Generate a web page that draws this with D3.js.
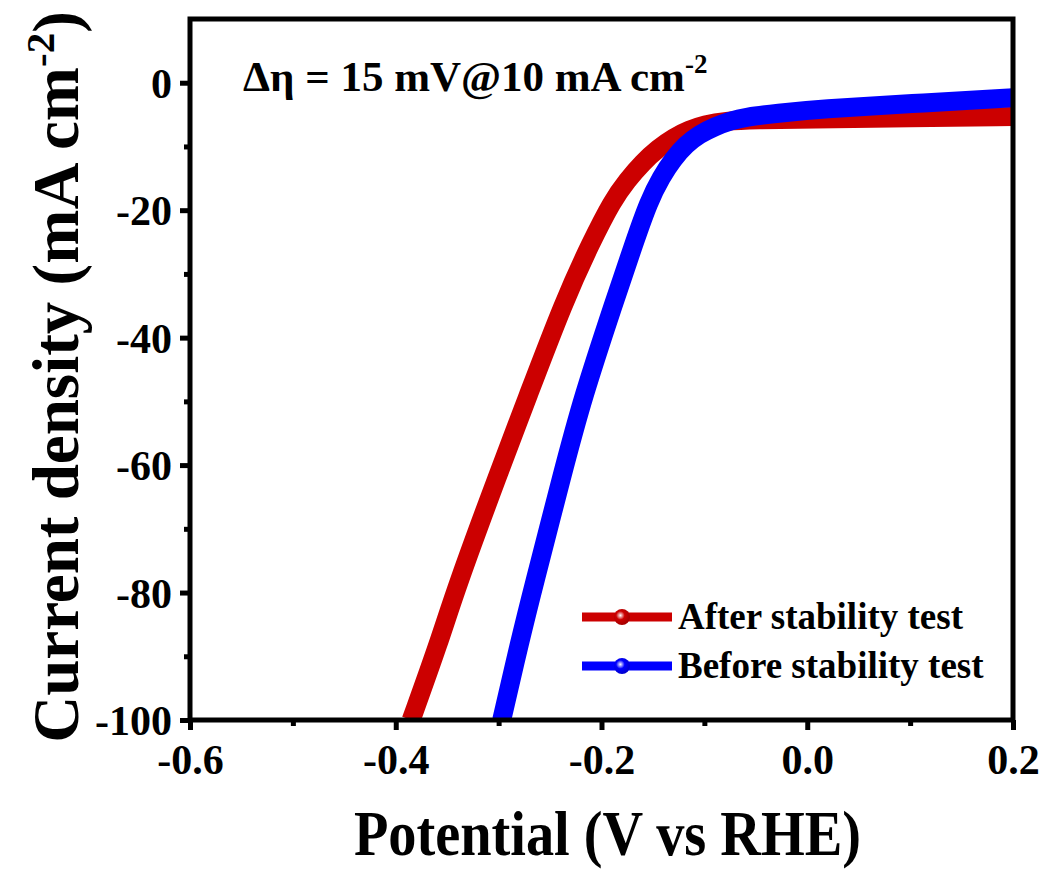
<!DOCTYPE html>
<html>
<head>
<meta charset="utf-8">
<script src="https://cdn.jsdelivr.net/npm/d3@7"></script>
<style>
    body { margin: 0; background: #fff; }
    text { font-family: 'Liberation Serif', 'Times New Roman', serif; font-weight: bold; fill: #000; }
</style>
</head>
<body>
<script>
// LSV data: potential (V vs RHE) and current density (mA cm-2)
const afterV = [-0.385, -0.357, -0.342, -0.299, -0.273, -0.236, -0.210, -0.189, -0.175, -0.160, -0.145, -0.130, -0.115, -0.100, -0.080, -0.050, 0.000, 0.100, 0.200];
const afterJ = [-100, -87.4, -79.6, -60.8, -49.8, -34.1, -25.0, -18.4, -15.3, -12.5, -10.3, -8.6, -7.4, -6.6, -6.0, -5.8, -5.7, -5.5, -5.3];
const beforeV = [-0.297, -0.279, -0.267, -0.237, -0.219, -0.187, -0.168, -0.154, -0.142, -0.130, -0.118, -0.105, -0.090, -0.075, -0.060, -0.030, 0.013, 0.100, 0.200];
const beforeJ = [-100, -87.4, -79.6, -60.8, -49.8, -34.1, -25.0, -18.6, -14.8, -11.9, -9.7, -8.1, -6.9, -6.0, -5.4, -4.8, -4.1, -3.3, -2.35];

const seriesNames = ['After stability test', 'Before stability test'];
const seriesColors = ['#cc0000', '#0000ff'];
const xTicks = [-0.6, -0.4, -0.2, 0.0, 0.2];
const xMinor = [-0.5, -0.3, -0.1, 0.1];
const yTicks = [0, -20, -40, -60, -80, -100];
const yMinor = [-10, -30, -50, -70, -90];

const W = 1045, H = 873;
const margin = { top: 19, right: 32, bottom: 153, left: 190 };
const width = W - margin.left - margin.right;
const height = H - margin.top - margin.bottom;

const svg = d3.select('body').append('svg')
    .attr('width', W)
    .attr('height', H);

const root = svg.append('g').attr('transform', `translate(${margin.left},${margin.top})`);

const xscale = d3.scaleLinear().domain([-0.6, 0.2]).range([0, width]);
const yscale = d3.scaleLinear().domain([-100, 10]).range([height, 0]);

// clip the curves to the frame
const defs = svg.append('defs');
defs.append('clipPath').attr('id', 'plotClip')
    .append('rect').attr('width', width).attr('height', height);

// sphere look for the legend markers
const grads = defs.selectAll('radialGradient').data(seriesColors).enter()
    .append('radialGradient')
    .attr('id', (d, i) => `ball${i}`)
    .attr('cx', '40%').attr('cy', '40%').attr('r', '60%');
grads.append('stop').attr('offset', '0%').attr('stop-color', '#fff');
grads.append('stop').attr('offset', '45%').attr('stop-color', (d) => d);
grads.append('stop').attr('offset', '100%').attr('stop-color', (d) => d3.color(d).darker(0.6));

const series = [
    afterV.map((v, i) => ({ v: v, j: afterJ[i] })),
    beforeV.map((v, i) => ({ v: v, j: beforeJ[i] }))
];

//b-spline keeps the knee smooth, ends stay on the first/last point
const line = d3.line()
    .x((d) => xscale(d.v))
    .y((d) => yscale(d.j))
    .curve(d3.curveBasis);

const chart = root.append('g').attr('clip-path', 'url(#plotClip)');
chart.selectAll('path').data(series).enter().append('path')
    .attr('d', line)
    .attr('fill', 'none')
    .attr('stroke', (d, i) => seriesColors[i])
    .attr('stroke-width', 19)
    .attr('stroke-linejoin', 'round');

// axes: major ticks with labels, minor ticks in between
const fmtX = (d) => d3.format('.1f')(d).replace('\u2212', '-');
const fmtY = (d) => String(d);
const xaxis = d3.axisBottom(xscale).tickValues(xTicks).tickFormat(fmtX).tickSize(10).tickPadding(10);
const xminor = d3.axisBottom(xscale).tickValues(xMinor).tickFormat('').tickSize(6);
const yaxis = d3.axisLeft(yscale).tickValues(yTicks).tickFormat(fmtY).tickSize(10).tickPadding(8);
const yminor = d3.axisLeft(yscale).tickValues(yMinor).tickFormat('').tickSize(6);

const gx = root.append('g').attr('transform', `translate(0,${height})`);
gx.append('g').call(xaxis);
gx.append('g').call(xminor);
const gy = root.append('g');
gy.append('g').call(yaxis);
gy.append('g').call(yminor);

root.selectAll('.domain').remove();
root.selectAll('.tick line').attr('stroke', '#000').attr('stroke-width', 5);
root.selectAll('.tick text').style('font-size', '42px').attr('fill', '#000');
gx.selectAll('.tick text').attr('dy', '0.8em');
gy.selectAll('.tick text').attr('dy', '0.35em');

// frame
root.append('rect')
    .attr('width', width).attr('height', height)
    .attr('fill', 'none').attr('stroke', '#000').attr('stroke-width', 5);

// axis titles (glyphs in the picture are a bit narrow, hence the x squeeze)
svg.append('text')
    .attr('transform', `translate(${margin.left + width / 2 + 6},855) scale(0.88,1)`)
    .attr('text-anchor', 'middle')
    .style('font-size', '64px')
    .text('Potential (V vs RHE)');

const ytitle = svg.append('text')
    .attr('transform', `translate(78,377) rotate(-90)`)
    .attr('text-anchor', 'middle')
    .style('font-size', '65px');
ytitle.append('tspan').text('Current density (mA cm');
ytitle.append('tspan').attr('dy', -24).style('font-size', '41px').text('-2');
ytitle.append('tspan').attr('dy', 24).text(')');

// annotation
const note = svg.append('text')
    .attr('x', 243).attr('y', 91)
    .style('font-size', '43px');
note.append('tspan').text('\u0394\u03b7 = 15 mV@10 mA cm');
note.append('tspan').attr('dy', -18).style('font-size', '27px').text('-2');

// legend
const legend = svg.append('g').attr('transform', 'translate(582,617)');
const items = legend.selectAll('g').data(seriesNames).enter().append('g')
    .attr('transform', (d, i) => `translate(0,${i * 49})`);
items.append('line')
    .attr('x1', 0).attr('x2', 90)
    .attr('stroke', (d, i) => seriesColors[i])
    .attr('stroke-width', 9);
items.append('circle')
    .attr('cx', 40).attr('r', 8)
    .attr('fill', (d, i) => `url(#ball${i})`);
items.append('text')
    .attr('x', 96).attr('y', 12)
    .style('font-size', '37px')
    .text((d) => d);
</script>
</body>
</html>
